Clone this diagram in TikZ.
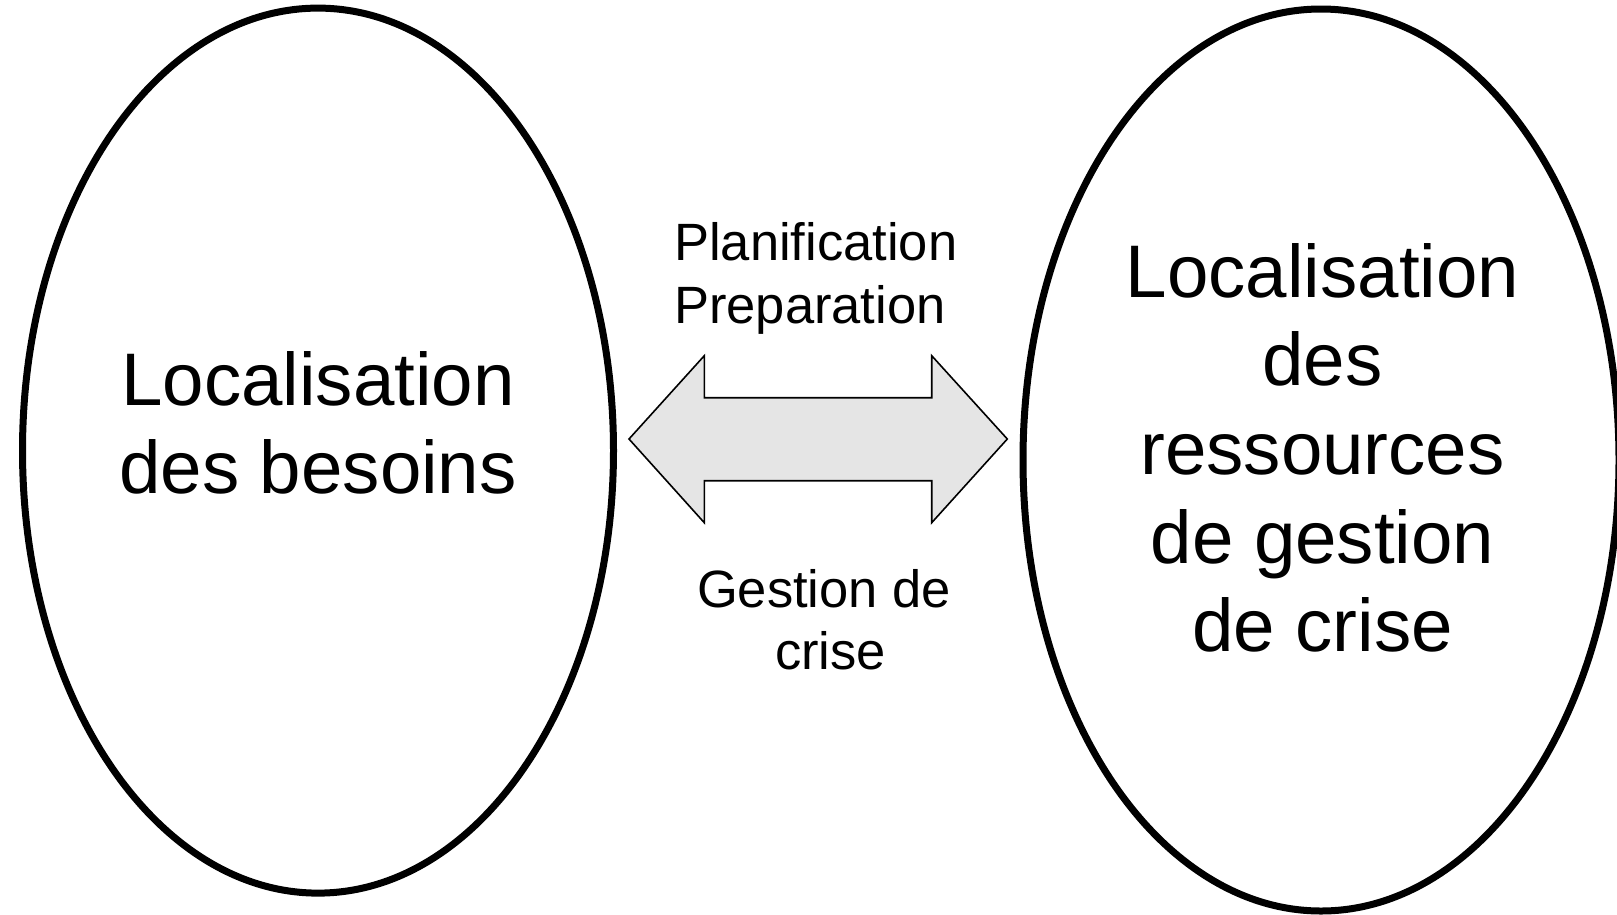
\documentclass[tikz,border=0pt]{standalone}
\usepackage{fontspec}
\setmainfont{Liberation Sans}
\usetikzlibrary{shapes.geometric}
\definecolor{arrowfill}{HTML}{E5E5E5}
\begin{document}
\begin{tikzpicture}[x=1pt,y=-1pt,
  zone/.style={ellipse,draw=black,line width=7pt,inner sep=0pt,outer sep=0pt},
  bigtext/.style={anchor=base,inner sep=0pt,font=\fontsize{74.5}{#1}\selectfont},
  smalltext/.style={inner sep=0pt,font=\fontsize{52.5}{62.5}\selectfont},
  blockarrow/.style={draw=black,line width=1.6pt,fill=arrowfill,line join=miter}]
\useasboundingbox (0,0) rectangle (1617,914);

% the two zones
\node[zone,minimum width=591pt,minimum height=885pt] (besoins) at (318,450.6) {};
\node[zone,minimum width=596pt,minimum height=902pt] (ressources) at (1321,460) {};

% zone captions
\node[bigtext=88] (besoinsText) at (318,405)
  {\begin{tabular}[t]{@{}c@{}}Localisation\\des besoins\end{tabular}};
\node[bigtext=88.7] (ressourcesText) at (1322.5,297)
  {\begin{tabular}[t]{@{}c@{}}Localisation\\des\\ressources\\de gestion\\de crise\end{tabular}};

% double block arrow between the zones
\coordinate (tipL) at (629,439);
\coordinate (tipR) at (1007.3,439);
\draw[blockarrow] (tipL) -- (704.3,355.7) -- (704.3,397.7) -- (931.7,397.7)
  -- (931.7,355.7) -- (tipR) -- (931.7,522.7) -- (931.7,480.7)
  -- (704.3,480.7) -- (704.3,522.7) -- cycle;

% arrow labels
\node[smalltext,anchor=base west] (phasePlan) at (674,260.7)
  {\begin{tabular}[t]{@{}l@{}}Planification\\Preparation\end{tabular}};
\node[smalltext,anchor=base] (phaseCrise) at (824,607.3)
  {\begin{tabular}[t]{@{}c@{}}Gestion de\\\hspace*{13pt}crise\end{tabular}};
\end{tikzpicture}
\end{document}
